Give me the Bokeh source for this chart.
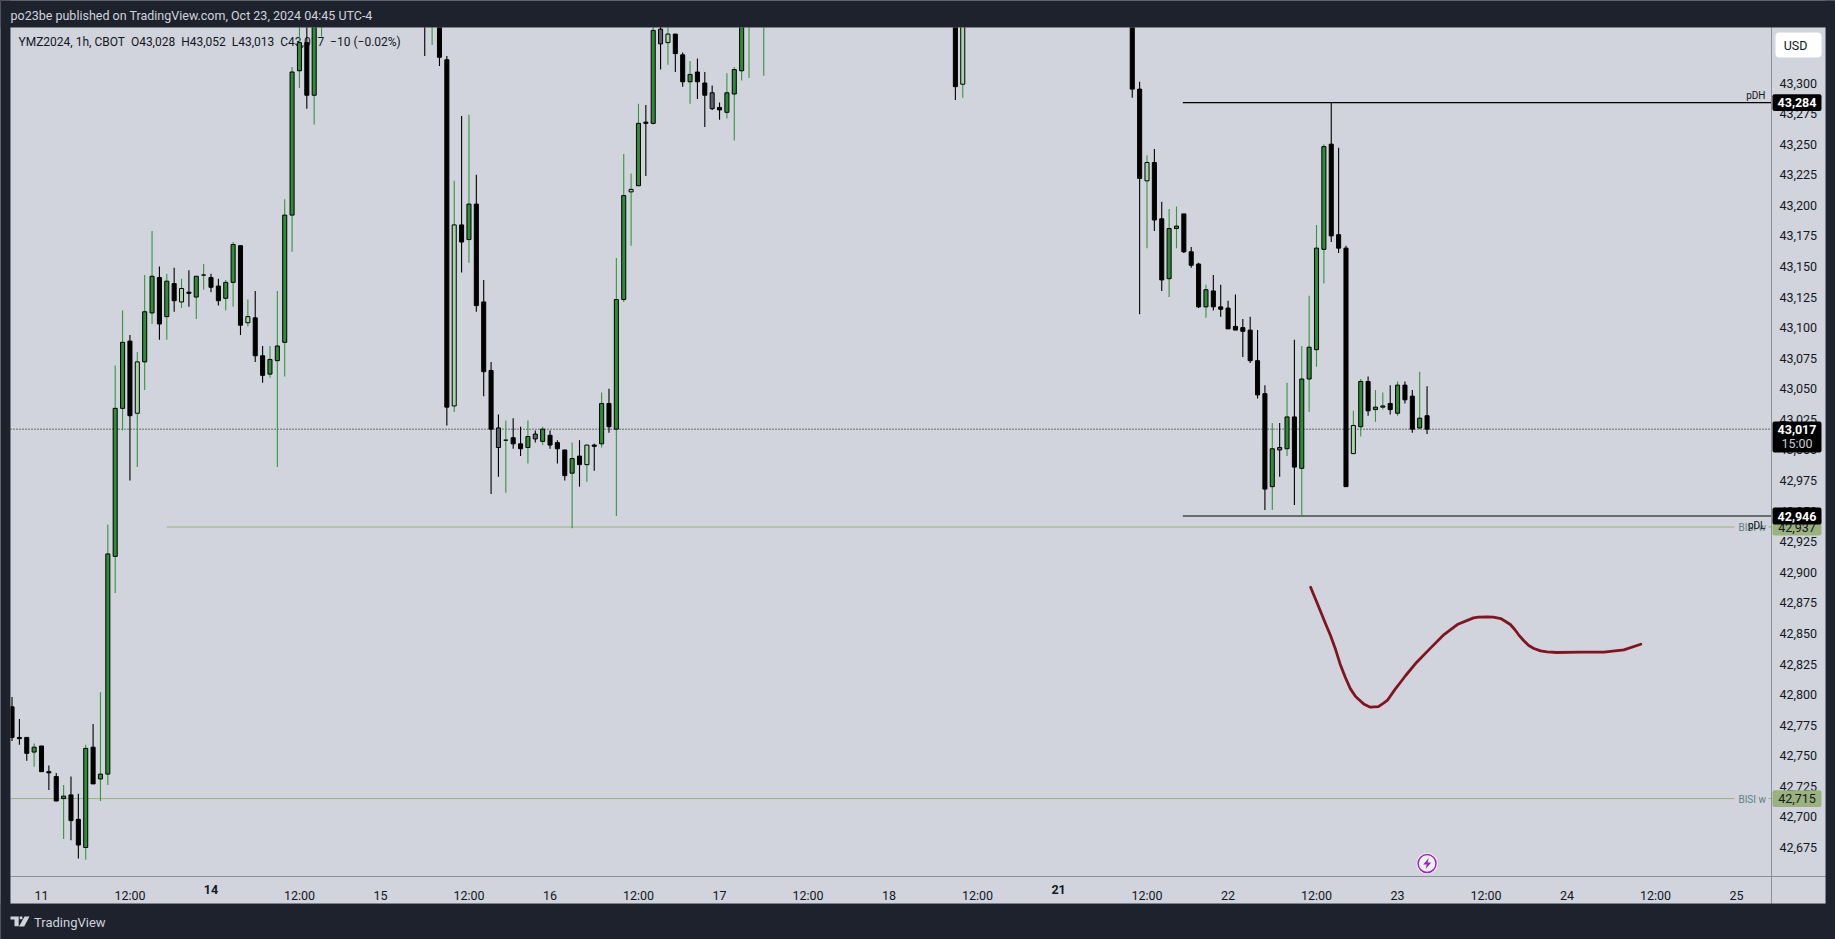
from bokeh.plotting import figure
from bokeh.models import (BoxAnnotation, ColumnDataSource, FixedTicker, Label,
                          NumeralTickFormatter, PolyAnnotation, Range1d)
from bokeh.embed import file_html
from bokeh.resources import INLINE

# ---------- data ----------
bar_index = [-4,-3,-2,-1,0,1,2,3,4,5,6,7,8,9,10,11,12,13,14,15,16,17,18,19,20,21,22,23,24,25,26,27,28,29,30,31,32,33,34,35,36,37,38,
             52,53,54,55,56,57,58,59,60,61,62,63,64,65,66,67,68,69,70,71,72,73,74,75,76,77,78,79,80,81,82,83,84,85,86,87,88,89,90,91,92,93,94,95,96,98,
             124,125,
             148,149,150,151,152,153,154,155,156,157,158,159,160,161,162,163,164,165,166,167,168,169,170,171,172,173,174,175,176,177,178,179,180,181,182,183,184,185,186,187,188]
kinds = list("kkkgkkkgkk" "gkggggklgg" "kgklkggkkg" "gklkkggggg" "kgg"
             "kgkklkgkkk" "sgkkgsgkkk" "gklkgkgglg" "kgslkkgkks" "kggggg"
             "kl"
             "kklkkggkkk" "gkkkkkkkkg" "sgkggggkkk" "lgkggkgkkg" "k")
opens = [42790,42765,42765,42753,42758,42737,42733,42715,42718,42698,42675,42757,42731,42735,42913,43034,43089,43030,43072,43112,43141,43109,43136,43121,43129,43125,43143,43141,43134,43124,43137,43167,43104,43108,43077,43062,43073,43088,43192,43310,43333,43290,43350,
         43356,43350,43356,43319,43036,43184,43172,43201,43121,43065,43018,43008,43010,43005,43002,43013,43007,43012,43006,43000,42981,42995,42988,43004,43005,43038,43017,43123,43211,43216,43268,43267,43344,43333,43340,43323,43301,43309,43300,43292,43280,43276,43291,43310,43350,43350,
         43356,43299,
         43356,43295,43220,43235,43189,43140,43181,43193,43162,43152,43117,43130,43117,43116,43101,43100,43098,43073,43046,42970,43002,43001,43027,42985,43058,43082,43164,43250,43176,43165,42997,43019,43056,43033,43035,43038,43030,43053,43044,43018,43028]
highs = [42798,42780,42765,42760,42758,42742,42736,42726,42733,42719,42759,42776,42802,42939,43069,43114,43094,43080,43143,43179,43150,43144,43149,43140,43147,43142,43152,43144,43140,43139,43170,43167,43123,43130,43085,43085,43130,43205,43313,43360,43355,43360,43360,
         43360,43360,43360,43322,43220,43273,43274,43225,43139,43072,43029,43024,43026,43019,43024,43016,43019,43016,43008,43000,43006,43008,43004,43005,43047,43050,43157,43242,43226,43283,43282,43360,43360,43360,43340,43325,43318,43320,43309,43298,43284,43308,43313,43360,43360,43360,
         43360,43360,
         43360,43301,43241,43246,43203,43197,43199,43193,43166,43153,43135,43143,43135,43122,43127,43107,43109,43098,43053,43022,43022,43055,43090,43085,43126,43184,43250,43284,43247,43167,43032,43058,43060,43049,43047,43053,43056,43056,43049,43064,43052]
lows = [42762,42759,42746,42741,42737,42722,42713,42682,42681,42666,42665,42727,42713,42726,42883,43016,42975,42986,43049,43103,43090,43090,43113,43116,43117,43107,43131,43129,43118,43114,43117,43094,43101,43072,43055,43059,42986,43060,43162,43296,43279,43266,43338,
        43322,43331,43314,43020,43031,43145,43153,43113,43044,42964,42978,42965,43001,42995,42989,43006,43004,43001,42989,42975,42936,42970,42974,42983,43002,43014,42946,43121,43167,43216,43224,43266,43311,43315,43309,43297,43283,43287,43264,43278,43270,43271,43253,43302,43304,43306,
        43286,43288,
        43288,43111,43165,43179,43130,43125,43165,43161,43149,43116,43108,43114,43109,43099,43098,43076,43071,43042,42951,42951,42978,42995,42955,42946,43031,43068,43136,43170,43161,42970,42997,43011,43028,43023,43033,43029,43028,43038,43014,43017,43013]
closes = [42765,42764,42752,42757,42737,42736,42713,42717,42697,42677,42756,42727,42735,42915,43034,43088,43028,43072,43113,43142,43103,43138,43122,43132,43128,43142,43143,43133,43122,43137,43168,43102,43109,43077,43061,43074,43085,43192,43309,43333,43290,43350,43356,
          43350,43356,43321,43035,43184,43170,43201,43118,43064,43017,43002,43008,43005,43001,43011,43009,43017,43004,43001,42979,42993,42988,43004,43003,43038,43019,43123,43208,43213,43267,43267,43343,43332,43340,43324,43301,43307,43301,43290,43279,43278,43292,43311,43350,43356,43356,
          43297,43356,
          43295,43222,43235,43188,43139,43181,43183,43162,43151,43117,43131,43117,43115,43099,43098,43097,43073,43045,42968,43001,43000,43027,42986,43058,43084,43165,43248,43175,43165,42970,43020,43056,43032,43035,43036,43033,43053,43041,43017,43026,43017]

sketch_t = [172.2,173.5,174.2,174.9,175.6,176.2,176.9,177.6,178.3,179.0,179.4,180.3,181.4,182.1,182.6,183.7,184.4,185.1,186.6,188.5,190.3,192.1,194.3,195.0,196.1,197.0,198.0,198.6,199.3,199.9,200.4,201.1,201.8,202.5,203.4,204.3,205.6,208.8,212.0,214.7,217.0]
sketch_price = [42887.8,42868.7,42858.4,42848.3,42836.6,42825.1,42814.2,42804.7,42798.4,42794.6,42792.4,42789.7,42790.2,42793,42795.2,42804.7,42810.1,42815.6,42826.5,42838.2,42849.1,42857.3,42862.7,42863.3,42863.5,42863.3,42862.2,42860,42857.3,42853.2,42849.1,42844.2,42840.1,42837.7,42835.8,42834.9,42834.4,42834.7,42834.7,42836.6,42841.2]

price_ticks = list(range(42675, 43301, 25))
time_ticks = [0,12,23,35,46,58,69,81,92,104,115,127,138,150,161,173,184,196,207,219,230]
time_labels = ["11","12:00","","12:00","15","12:00","16","12:00","17","12:00","18","12:00","","12:00","22","12:00","23","12:00","24","12:00","25"]
bold_ticks = [23, 138]
bold_labels = ["14", "21"]

pdh, pdl, last_price = 43284, 42946, 43017
bisi_upper, bisi_lower = 42937, 42715
event_t, event_price = 188, 42661.9

# ---------- palette ----------
DARK, PANE = "#1e222d", "#d1d4dc"
EDGE = "#8b8f9c"
GREEN, WICK_GREEN, LIGHT, GREY = "#2e8b37", "#34953d", "#a5d6a7", "#5d606b"
TAG_GREEN, BISI_TEXT = "#9bb17e", "#5f7f82"
FILL = {"k": "#000000", "g": GREEN, "l": LIGHT, "s": GREY}
FONT = "Roboto"

# ---------- figure: the frame fills the page; the dark surround is painted over it ----------
PX_PER_BAR, PX_PER_PRICE = 7.37, 1.2232
W, H = 1835, 939
L, R, T, B = 10, 1825, 27, 903      # light area
PANE_R, PANE_B = 1771, 876          # where the axes sit


def t_at(x):
    return (x - 41) / PX_PER_BAR


def price_at(y):
    return 43300 - (y - 82.5) / PX_PER_PRICE


p = figure(width=W, height=H, output_backend="svg", toolbar_location=None,
           x_range=Range1d(t_at(0), t_at(W)), y_range=Range1d(price_at(H), price_at(0)),
           y_axis_location="right", x_axis_location="below",
           background_fill_color=PANE, border_fill_color=DARK,
           min_border_left=0, min_border_right=0, min_border_top=0, min_border_bottom=0)
p.grid.visible = False
p.outline_line_color = None


def sx(x):
    return x


def sy(y):
    return H - y


def screen_box(left, right, top, bottom, fill, **kw):
    style = dict(fill_color=fill, fill_alpha=1, line_color=None, level="overlay")
    style.update(kw)
    p.add_layout(BoxAnnotation(left=sx(left), right=sx(right), top=sy(top), bottom=sy(bottom),
                               left_units="screen", right_units="screen", top_units="screen", bottom_units="screen",
                               **style))


def screen_text(text, x, y, size="12px", color="#131722", align="left", baseline="middle", style="normal", level="annotation"):
    p.add_layout(Label(x=sx(x), y=sy(y), x_units="screen", y_units="screen", text=text, text_font=FONT,
                       text_font_size=size, text_color=color, text_align=align, text_baseline=baseline,
                       text_font_style=style, level=level))


def tag(price, text, fill, color, style="normal", half=6.9):
    p.add_layout(BoxAnnotation(left=sx(1772), right=sx(1821), top=price + half, bottom=price - half,
                               left_units="screen", right_units="screen", fill_color=fill, fill_alpha=1,
                               line_color=None, border_radius=2, level="overlay"))
    p.add_layout(Label(x=sx(1796.5), y=price, x_units="screen", text=text, text_font=FONT, text_font_size="12.5px",
                       text_color=color, text_align="center", text_baseline="middle", text_font_style=style,
                       level="overlay"))


yaxis = p.yaxis[0]
yaxis.fixed_location = t_at(PANE_R)
yaxis.ticker = FixedTicker(ticks=price_ticks)
yaxis.formatter = NumeralTickFormatter(format="0,0")
yaxis.major_tick_line_color = None
yaxis.minor_tick_line_color = None
yaxis.axis_line_color = EDGE
yaxis.major_label_text_color = "#131722"
yaxis.major_label_text_font = FONT
yaxis.major_label_text_font_size = "12.5px"
yaxis.major_label_standoff = 2

xaxis = p.xaxis[0]
xaxis.fixed_location = price_at(PANE_B)
xaxis.ticker = FixedTicker(ticks=time_ticks)
xaxis.major_label_overrides = {t: s for t, s in zip(time_ticks, time_labels)}
xaxis.major_tick_line_color = None
xaxis.minor_tick_line_color = None
xaxis.axis_line_color = EDGE
xaxis.major_label_text_color = "#131722"
xaxis.major_label_text_font = FONT
xaxis.major_label_text_font_size = "12.5px"
xaxis.major_label_standoff = 5

for t, s in zip(bold_ticks, bold_labels):
    p.add_layout(Label(x=t, y=sy(888.5), y_units="screen", text=s, text_font=FONT, text_font_size="12.5px",
                       text_font_style="bold", text_color="#131722", text_align="center", text_baseline="middle"))

# legend line sits behind the candles
NB = "\u00a0"
legend_text = ("YMZ2024, 1h, CBOT" + NB * 2 + "O43,028" + NB * 2 + "H43,052" + NB * 2 + "L43,013" + NB * 2 +
               "C43,017" + NB * 2 + "\u221210 (\u22120.02%)")
screen_text(legend_text, 18, 41, "12px", level="underlay")

# level lines
pane_end = t_at(PANE_R)
pane_start = t_at(L)
p.segment(x0=[pane_start], x1=[pane_end], y0=[last_price], y1=[last_price], line_color="#000000", line_width=1, line_dash="1 2")
start_t = t_at(1182.3)
p.segment(x0=[start_t, start_t], x1=[pane_end, pane_end], y0=[pdh, pdl], y1=[pdh, pdl], line_color="#000000", line_width=1.2)
label_a, label_b = t_at(1734), t_at(1768)
p.segment(x0=[17, label_b, pane_start, label_b], x1=[label_a, pane_end, label_a, pane_end],
          y0=[bisi_upper, bisi_upper, bisi_lower, bisi_lower], y1=[bisi_upper, bisi_upper, bisi_lower, bisi_lower],
          line_color=TAG_GREEN, line_width=1)

# candles
src = ColumnDataSource(dict(
    t=bar_index, o=opens, h=highs, l=lows, c=closes,
    fill=[FILL[k] for k in kinds],
    wick=["#000000" if k in "ks" else WICK_GREEN for k in kinds],
))
p.segment(x0="t", x1="t", y0="l", y1="h", line_color="wick", line_width=1.1, source=src)
p.vbar(x="t", width=0.55, top="o", bottom="c", fill_color="fill", line_color="#000000", line_width=1, source=src)

# hand-drawn path
p.line(sketch_t, sketch_price, line_color="#7f1520", line_width=2.8, line_join="round", line_cap="round")

# event marker
p.scatter([event_t], [event_price], size=21, marker="circle", fill_color="#ffffff", line_color=None)
p.scatter([event_t], [event_price], size=18, marker="circle", fill_color="#eef0f4", line_color="#9c27b0", line_width=1.5)
ex, ey = 1426.7, 863
p.add_layout(PolyAnnotation(xs=[sx(ex + v) for v in (1.5, -4, -0.5, -1.5, 4, 0.5)],
                            ys=[sy(ey + v) for v in (-5.5, 1, 1, 5.5, -1, -1)],
                            xs_units="screen", ys_units="screen", fill_color="#9c27b0", fill_alpha=1, line_color=None))

# dark surround, painted over everything that runs past the light area
screen_box(0, W, 0, T, DARK)
screen_box(0, W, B, H, DARK)
screen_box(0, L, 0, H, DARK)
screen_box(R, W, 0, H, DARK)
screen_box(L, R, T, B, None, fill_alpha=0, line_color=EDGE, line_width=1)

# line labels on the right of the pane
screen_text("pDH", 1765, 95, "10px", align="right")
screen_text("BISI w", 1765.5, 527, "10px", color=BISI_TEXT, align="right")
screen_text("pDL", 1765, 525, "10px", align="right")
screen_text("BISI w", 1765.5, 799, "10px", color=BISI_TEXT, align="right")

# price tags
tag(bisi_upper, "42,937", TAG_GREEN, "#131722")
tag(bisi_lower, "42,715", TAG_GREEN, "#131722")
tag(pdl, "42,946", "#000000", "#ffffff", "bold")
tag(pdh, "43,284", "#000000", "#ffffff", "bold")
screen_box(1772, 1821, 421, 452, "#000000", border_radius=2)
screen_text("43,017", 1796.5, 429, "12.5px", "#ffffff", "center", style="bold", level="overlay")
screen_text("15:00", 1796.5, 443, "12.5px", "#c8cad0", "center", level="overlay")

# currency button
screen_box(1775, 1821, 32, 57, "#ffffff", border_radius=4)
screen_text("USD", 1795, 44.5, "12.5px", align="center", level="overlay")

# publisher header and footer
screen_text("po23be published on TradingView.com, Oct 23, 2024 04:45 UTC-4", 10, 15, "12.5px", color=PANE, level="overlay")
screen_text("TradingView", 33.5, 921.5, "13px", color=PANE, level="overlay")
for xs, ys in [((10, 18.2, 18.2, 14, 14, 10), (916, 916, 925.7, 925.7, 919, 919)),
               ((24, 29, 23.7, 18.5), (916, 916, 926, 926)),
               ((19.2, 21.9, 21.9, 19.2), (916, 916, 918.7, 918.7))]:
    p.add_layout(PolyAnnotation(xs=[sx(v) for v in xs], ys=[sy(v) for v in ys], xs_units="screen", ys_units="screen",
                                fill_color=PANE, fill_alpha=1, line_color=None, level="overlay"))

html = file_html(p, INLINE)
html = html.replace("</head>", "<style>html,body{margin:0;padding:0;background:#1e222d;overflow:hidden}</style></head>")
open("out.html", "w").write(html)
